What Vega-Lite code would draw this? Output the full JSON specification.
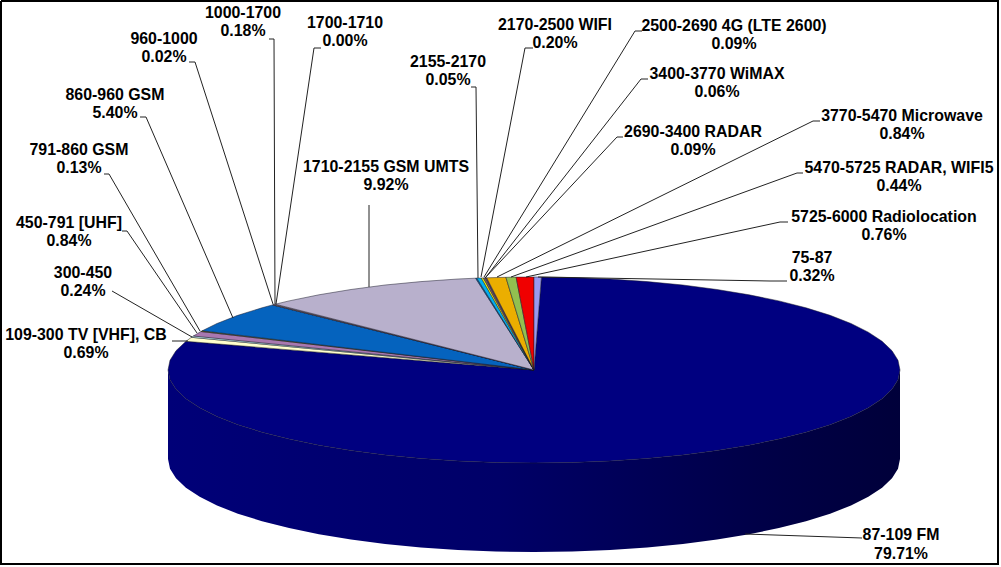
{"$schema":"https://vega.github.io/schema/vega-lite/v6.json","width":1001,"height":567,"padding":0,"autosize":{"type":"none"},"background":"#ffffff","view":{"stroke":null},
"config":{"axis":{"disable":true},"legend":{"disable":true}},
"datasets":{
"wall":[{"i":0,"x":900,"y":370},{"i":1,"x":898,"y":379.7},{"i":2,"x":892,"y":389.3},{"i":3,"x":882.1,"y":398.7},{"i":4,"x":868.3,"y":407.8},{"i":5,"x":851,"y":416.5},{"i":6,"x":830.1,"y":424.7},{"i":7,"x":806,"y":432.2},{"i":8,"x":778.9,"y":439.1},{"i":9,"x":749.1,"y":445.2},{"i":10,"x":717,"y":450.5},{"i":11,"x":682.9,"y":455},{"i":12,"x":647.1,"y":458.4},{"i":13,"x":610.1,"y":461},{"i":14,"x":572.2,"y":462.5},{"i":15,"x":534,"y":463},{"i":16,"x":495.8,"y":462.5},{"i":17,"x":457.9,"y":461},{"i":18,"x":420.9,"y":458.4},{"i":19,"x":385.1,"y":455},{"i":20,"x":351,"y":450.5},{"i":21,"x":318.9,"y":445.2},{"i":22,"x":289.1,"y":439.1},{"i":23,"x":262,"y":432.2},{"i":24,"x":237.9,"y":424.7},{"i":25,"x":217,"y":416.5},{"i":26,"x":199.7,"y":407.8},{"i":27,"x":185.9,"y":398.7},{"i":28,"x":176,"y":389.3},{"i":29,"x":170,"y":379.7},{"i":30,"x":168,"y":370},{"i":31,"x":168,"y":459},{"i":32,"x":170,"y":468.7},{"i":33,"x":176,"y":478.3},{"i":34,"x":185.9,"y":487.7},{"i":35,"x":199.7,"y":496.8},{"i":36,"x":217,"y":505.5},{"i":37,"x":237.9,"y":513.7},{"i":38,"x":262,"y":521.2},{"i":39,"x":289.1,"y":528.1},{"i":40,"x":318.9,"y":534.2},{"i":41,"x":351,"y":539.5},{"i":42,"x":385.1,"y":544},{"i":43,"x":420.9,"y":547.4},{"i":44,"x":457.9,"y":550},{"i":45,"x":495.8,"y":551.5},{"i":46,"x":534,"y":552},{"i":47,"x":572.2,"y":551.5},{"i":48,"x":610.1,"y":550},{"i":49,"x":647.1,"y":547.4},{"i":50,"x":682.9,"y":544},{"i":51,"x":717,"y":539.5},{"i":52,"x":749.1,"y":534.2},{"i":53,"x":778.9,"y":528.1},{"i":54,"x":806,"y":521.2},{"i":55,"x":830.1,"y":513.7},{"i":56,"x":851,"y":505.5},{"i":57,"x":868.3,"y":496.8},{"i":58,"x":882.1,"y":487.7},{"i":59,"x":892,"y":478.3},{"i":60,"x":898,"y":468.7},{"i":61,"x":900,"y":459}],
"slices":[
{"s":"87-109 FM","i":0,"x":534,"y":370},{"s":"87-109 FM","i":1,"x":541.4,"y":277},{"s":"87-109 FM","i":2,"x":572.2,"y":277.5},{"s":"87-109 FM","i":3,"x":610.1,"y":279},{"s":"87-109 FM","i":4,"x":647.1,"y":281.6},{"s":"87-109 FM","i":5,"x":682.9,"y":285},{"s":"87-109 FM","i":6,"x":717,"y":289.5},{"s":"87-109 FM","i":7,"x":749.1,"y":294.8},{"s":"87-109 FM","i":8,"x":778.9,"y":300.9},{"s":"87-109 FM","i":9,"x":806,"y":307.8},{"s":"87-109 FM","i":10,"x":830.1,"y":315.3},{"s":"87-109 FM","i":11,"x":851,"y":323.5},{"s":"87-109 FM","i":12,"x":868.3,"y":332.2},{"s":"87-109 FM","i":13,"x":882.1,"y":341.3},{"s":"87-109 FM","i":14,"x":892,"y":350.7},{"s":"87-109 FM","i":15,"x":898,"y":360.3},{"s":"87-109 FM","i":16,"x":900,"y":370},{"s":"87-109 FM","i":17,"x":898,"y":379.7},{"s":"87-109 FM","i":18,"x":892,"y":389.3},{"s":"87-109 FM","i":19,"x":882.1,"y":398.7},{"s":"87-109 FM","i":20,"x":868.3,"y":407.8},{"s":"87-109 FM","i":21,"x":851,"y":416.5},{"s":"87-109 FM","i":22,"x":830.1,"y":424.7},{"s":"87-109 FM","i":23,"x":806,"y":432.2},{"s":"87-109 FM","i":24,"x":778.9,"y":439.1},{"s":"87-109 FM","i":25,"x":749.1,"y":445.2},{"s":"87-109 FM","i":26,"x":717,"y":450.5},{"s":"87-109 FM","i":27,"x":682.9,"y":455},{"s":"87-109 FM","i":28,"x":647.1,"y":458.4},{"s":"87-109 FM","i":29,"x":610.1,"y":461},{"s":"87-109 FM","i":30,"x":572.2,"y":462.5},{"s":"87-109 FM","i":31,"x":534,"y":463},{"s":"87-109 FM","i":32,"x":495.8,"y":462.5},{"s":"87-109 FM","i":33,"x":457.9,"y":461},{"s":"87-109 FM","i":34,"x":420.9,"y":458.4},{"s":"87-109 FM","i":35,"x":385.1,"y":455},{"s":"87-109 FM","i":36,"x":351,"y":450.5},{"s":"87-109 FM","i":37,"x":318.9,"y":445.2},{"s":"87-109 FM","i":38,"x":289.1,"y":439.1},{"s":"87-109 FM","i":39,"x":262,"y":432.2},{"s":"87-109 FM","i":40,"x":237.9,"y":424.7},{"s":"87-109 FM","i":41,"x":217,"y":416.5},{"s":"87-109 FM","i":42,"x":199.7,"y":407.8},{"s":"87-109 FM","i":43,"x":185.9,"y":398.7},{"s":"87-109 FM","i":44,"x":176,"y":389.3},{"s":"87-109 FM","i":45,"x":170,"y":379.7},{"s":"87-109 FM","i":46,"x":168,"y":370},{"s":"87-109 FM","i":47,"x":170,"y":360.3},{"s":"87-109 FM","i":48,"x":176,"y":350.7},{"s":"87-109 FM","i":49,"x":186,"y":341.3},{"s":"87-109 FM","i":50,"x":534,"y":370},
{"s":"109-300 TV [VHF], CB","i":0,"x":534,"y":370},{"s":"109-300 TV [VHF], CB","i":1,"x":186,"y":341.3},{"s":"109-300 TV [VHF], CB","i":2,"x":191.4,"y":337.3},{"s":"109-300 TV [VHF], CB","i":3,"x":534,"y":370},
{"s":"300-450","i":0,"x":534,"y":370},{"s":"300-450","i":1,"x":191.4,"y":337.3},{"s":"300-450","i":2,"x":193.4,"y":336},{"s":"300-450","i":3,"x":534,"y":370},
{"s":"450-791 [UHF]","i":0,"x":534,"y":370},{"s":"450-791 [UHF]","i":1,"x":193.4,"y":336},{"s":"450-791 [UHF]","i":2,"x":200.9,"y":331.5},{"s":"450-791 [UHF]","i":3,"x":534,"y":370},
{"s":"791-860 GSM","i":0,"x":534,"y":370},{"s":"791-860 GSM","i":1,"x":200.9,"y":331.5},{"s":"791-860 GSM","i":2,"x":202.2,"y":330.8},{"s":"791-860 GSM","i":3,"x":534,"y":370},
{"s":"860-960 GSM","i":0,"x":534,"y":370},{"s":"860-960 GSM","i":1,"x":202.2,"y":330.8},{"s":"860-960 GSM","i":2,"x":217,"y":323.5},{"s":"860-960 GSM","i":3,"x":237.9,"y":315.3},{"s":"860-960 GSM","i":4,"x":262,"y":307.8},{"s":"860-960 GSM","i":5,"x":272.5,"y":304.9},{"s":"860-960 GSM","i":6,"x":534,"y":370},
{"s":"960-1000","i":0,"x":534,"y":370},{"s":"960-1000","i":1,"x":272.5,"y":304.9},{"s":"960-1000","i":2,"x":273,"y":304.8},{"s":"960-1000","i":3,"x":534,"y":370},
{"s":"1000-1700","i":0,"x":534,"y":370},{"s":"1000-1700","i":1,"x":273,"y":304.8},{"s":"1000-1700","i":2,"x":275.3,"y":304.2},{"s":"1000-1700","i":3,"x":534,"y":370},
{"s":"1710-2155 GSM UMTS","i":0,"x":534,"y":370},{"s":"1710-2155 GSM UMTS","i":1,"x":275.3,"y":304.2},{"s":"1710-2155 GSM UMTS","i":2,"x":289.1,"y":300.9},{"s":"1710-2155 GSM UMTS","i":3,"x":318.9,"y":294.8},{"s":"1710-2155 GSM UMTS","i":4,"x":351,"y":289.5},{"s":"1710-2155 GSM UMTS","i":5,"x":385.1,"y":285},{"s":"1710-2155 GSM UMTS","i":6,"x":420.9,"y":281.6},{"s":"1710-2155 GSM UMTS","i":7,"x":457.9,"y":279},{"s":"1710-2155 GSM UMTS","i":8,"x":475.6,"y":278.2},{"s":"1710-2155 GSM UMTS","i":9,"x":534,"y":370},
{"s":"2155-2170","i":0,"x":534,"y":370},{"s":"2155-2170","i":1,"x":475.6,"y":278.2},{"s":"2155-2170","i":2,"x":476.8,"y":278.1},{"s":"2155-2170","i":3,"x":534,"y":370},
{"s":"2170-2500 WIFI","i":0,"x":534,"y":370},{"s":"2170-2500 WIFI","i":1,"x":476.8,"y":278.1},{"s":"2170-2500 WIFI","i":2,"x":481.3,"y":278},{"s":"2170-2500 WIFI","i":3,"x":534,"y":370},
{"s":"2500-2690 4G (LTE 2600)","i":0,"x":534,"y":370},{"s":"2500-2690 4G (LTE 2600)","i":1,"x":481.3,"y":278},{"s":"2500-2690 4G (LTE 2600)","i":2,"x":483.3,"y":277.9},{"s":"2500-2690 4G (LTE 2600)","i":3,"x":534,"y":370},
{"s":"2690-3400 RADAR","i":0,"x":534,"y":370},{"s":"2690-3400 RADAR","i":1,"x":483.3,"y":277.9},{"s":"2690-3400 RADAR","i":2,"x":485.4,"y":277.8},{"s":"2690-3400 RADAR","i":3,"x":534,"y":370},
{"s":"3400-3770 WiMAX","i":0,"x":534,"y":370},{"s":"3400-3770 WiMAX","i":1,"x":485.4,"y":277.8},{"s":"3400-3770 WiMAX","i":2,"x":486.7,"y":277.8},{"s":"3400-3770 WiMAX","i":3,"x":534,"y":370},
{"s":"3770-5470 Microwave","i":0,"x":534,"y":370},{"s":"3770-5470 Microwave","i":1,"x":486.7,"y":277.8},{"s":"3770-5470 Microwave","i":2,"x":505.9,"y":277.3},{"s":"3770-5470 Microwave","i":3,"x":534,"y":370},
{"s":"5470-5725 RADAR, WIFI5","i":0,"x":534,"y":370},{"s":"5470-5725 RADAR, WIFI5","i":1,"x":505.9,"y":277.3},{"s":"5470-5725 RADAR, WIFI5","i":2,"x":516.1,"y":277.1},{"s":"5470-5725 RADAR, WIFI5","i":3,"x":534,"y":370},
{"s":"5725-6000 Radiolocation","i":0,"x":534,"y":370},{"s":"5725-6000 Radiolocation","i":1,"x":516.1,"y":277.1},{"s":"5725-6000 Radiolocation","i":2,"x":534,"y":277},{"s":"5725-6000 Radiolocation","i":3,"x":534,"y":370},
{"s":"75-87","i":0,"x":534,"y":370},{"s":"75-87","i":1,"x":534,"y":277},{"s":"75-87","i":2,"x":541.4,"y":277},{"s":"75-87","i":3,"x":534,"y":370}],
"leaders":[
{"s":"1000-1700","i":0,"x":269,"y":39},{"s":"1000-1700","i":1,"x":274,"y":39},{"s":"1000-1700","i":2,"x":275,"y":304},
{"s":"960-1000","i":0,"x":189,"y":62},{"s":"960-1000","i":1,"x":195,"y":62},{"s":"960-1000","i":2,"x":273,"y":304},
{"s":"860-960 GSM","i":0,"x":140,"y":117},{"s":"860-960 GSM","i":1,"x":146,"y":117},{"s":"860-960 GSM","i":2,"x":233,"y":318},
{"s":"791-860 GSM","i":0,"x":104,"y":174},{"s":"791-860 GSM","i":1,"x":109,"y":174},{"s":"791-860 GSM","i":2,"x":200,"y":331},
{"s":"450-791 [UHF]","i":0,"x":122,"y":231},{"s":"450-791 [UHF]","i":1,"x":127,"y":231},{"s":"450-791 [UHF]","i":2,"x":197,"y":333},
{"s":"300-450","i":0,"x":112,"y":291},{"s":"300-450","i":1,"x":192,"y":337},
{"s":"109-300","i":0,"x":172,"y":341},{"s":"109-300","i":1,"x":188,"y":341},
{"s":"1700-1710","i":0,"x":321,"y":48},{"s":"1700-1710","i":1,"x":314,"y":48},{"s":"1700-1710","i":2,"x":276,"y":304},
{"s":"1710-2155","i":0,"x":369,"y":205},{"s":"1710-2155","i":1,"x":369,"y":287},
{"s":"2155-2170","i":0,"x":471,"y":87},{"s":"2155-2170","i":1,"x":476,"y":87},{"s":"2155-2170","i":2,"x":478,"y":278},
{"s":"2170-2500","i":0,"x":533,"y":48},{"s":"2170-2500","i":1,"x":525,"y":48},{"s":"2170-2500","i":2,"x":481,"y":277},
{"s":"2500-2690","i":0,"x":642,"y":31},{"s":"2500-2690","i":1,"x":635,"y":31},{"s":"2500-2690","i":2,"x":484,"y":277},
{"s":"3400-3770","i":0,"x":648,"y":79},{"s":"3400-3770","i":1,"x":641,"y":79},{"s":"3400-3770","i":2,"x":486,"y":277},
{"s":"2690-3400","i":0,"x":623,"y":137},{"s":"2690-3400","i":1,"x":617,"y":137},{"s":"2690-3400","i":2,"x":485,"y":278},
{"s":"3770-5470","i":0,"x":820,"y":121},{"s":"3770-5470","i":1,"x":813,"y":121},{"s":"3770-5470","i":2,"x":497,"y":277},
{"s":"5470-5725","i":0,"x":803,"y":173},{"s":"5470-5725","i":1,"x":797,"y":173},{"s":"5470-5725","i":2,"x":511,"y":277},
{"s":"5725-6000","i":0,"x":788,"y":222},{"s":"5725-6000","i":1,"x":780,"y":222},{"s":"5725-6000","i":2,"x":526,"y":277},
{"s":"75-87","i":0,"x":787,"y":281},{"s":"75-87","i":1,"x":770,"y":281},{"s":"75-87","i":2,"x":538,"y":277},
{"s":"87-109","i":0,"x":862,"y":538},{"s":"87-109","i":1,"x":745,"y":534}],
"labels":[
{"t":"1000-1700\n0.18%","x":243,"y":12.5},
{"t":"960-1000\n0.02%","x":164,"y":38.5},
{"t":"860-960 GSM\n5.40%","x":115,"y":94.5},
{"t":"791-860 GSM\n0.13%","x":79,"y":149.5},
{"t":"450-791 [UHF]\n0.84%","x":69,"y":222.5},
{"t":"300-450\n0.24%","x":83,"y":272.5},
{"t":"109-300 TV [VHF], CB\n0.69%","x":86,"y":334.5},
{"t":"1700-1710\n0.00%","x":345,"y":22.5},
{"t":"1710-2155 GSM UMTS\n9.92%","x":386,"y":166.5},
{"t":"2155-2170\n0.05%","x":448,"y":61.5},
{"t":"2170-2500 WIFI\n0.20%","x":555,"y":24.5},
{"t":"2500-2690 4G (LTE 2600)\n0.09%","x":734,"y":25.5},
{"t":"3400-3770 WiMAX\n0.06%","x":717,"y":73.5},
{"t":"2690-3400 RADAR\n0.09%","x":693,"y":131.5},
{"t":"3770-5470 Microwave\n0.84%","x":902,"y":115.5},
{"t":"5470-5725 RADAR, WIFI5\n0.44%","x":899,"y":167.5},
{"t":"5725-6000 Radiolocation\n0.76%","x":884,"y":216.5},
{"t":"75-87\n0.32%","x":812,"y":257.5},
{"t":"87-109 FM\n79.71%","x":901,"y":535}],
"frame":[{"i":0,"x":1,"y":1},{"i":1,"x":998,"y":1},{"i":2,"x":998,"y":564},{"i":3,"x":1,"y":564},{"i":4,"x":1,"y":1}]
},
"encoding":{
"x":{"field":"x","type":"quantitative","scale":{"domain":[0,1001],"nice":false,"zero":false},"axis":null},
"y":{"field":"y","type":"quantitative","scale":{"domain":[567,0],"nice":false,"zero":false},"axis":null},
"order":{"field":"i","type":"quantitative"}},
"layer":[
{"data":{"name":"frame"},"mark":{"type":"line","stroke":"#000000","strokeWidth":2}},
{"data":{"name":"wall"},"mark":{"type":"line","strokeWidth":0,"fill":{"gradient":"linear","x1":0,"y1":0,"x2":1,"y2":0,"stops":[{"offset":0,"color":"#000078"},{"offset":0.45,"color":"#000068"},{"offset":0.8,"color":"#000048"},{"offset":1,"color":"#00003a"}]}}},
{"data":{"name":"slices"},"mark":{"type":"line","stroke":"#1a1a2a","strokeWidth":0.5},
"encoding":{"detail":{"field":"s","type":"nominal"},
"fill":{"field":"s","type":"nominal","legend":null,"scale":{"domain":["87-109 FM","109-300 TV [VHF], CB","300-450","450-791 [UHF]","791-860 GSM","860-960 GSM","960-1000","1000-1700","1710-2155 GSM UMTS","2155-2170","2170-2500 WIFI","2500-2690 4G (LTE 2600)","2690-3400 RADAR","3400-3770 WiMAX","3770-5470 Microwave","5470-5725 RADAR, WIFI5","5725-6000 Radiolocation","75-87"],"range":["#000080","#FFFFCC","#CCFFFF","#A878B0","#808000","#0563BE","#CCCCFF","#8A7070","#B8B0CC","#0070C0","#00B0F0","#FFFF00","#7F5F5F","#604A7B","#EBAE00","#92C050","#F00000","#9999EE"]}}}},
{"data":{"name":"leaders"},"mark":{"type":"line","stroke":"#222222","strokeWidth":1},"encoding":{"detail":{"field":"s","type":"nominal"}}},
{"data":{"name":"labels"},"mark":{"type":"text","font":"Liberation Sans","fontWeight":"bold","fontSize":15.9,"lineHeight":18.5,"lineBreak":"\n","align":"center","baseline":"middle","color":"#000000"},"encoding":{"text":{"field":"t","type":"nominal"},"order":null}}
]}
